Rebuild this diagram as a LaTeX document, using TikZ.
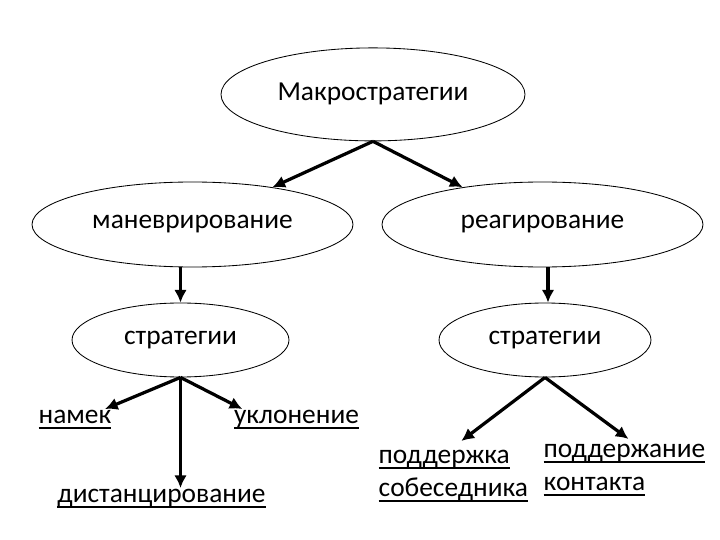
\documentclass[tikz,border=0pt]{standalone}
\usepackage{fontspec}
\setmainfont{Carlito}
\usepackage{tikz}
\usetikzlibrary{shapes.geometric, positioning, arrows.meta}
\newcommand{\undl}[1]{\setbox0=\hbox{#1}\rlap{\vrule height -2.2pt depth 3.8pt width \wd0}\box0}

\begin{document}
\begin{tikzpicture}[
	oval/.style={shape=ellipse, draw, line width=0.6pt, inner sep=0pt},
	lbl/.style={inner sep=1pt, align=left},
	arr/.style={-{Latex[length=9pt, width=9pt]}, line width=2.3pt},
	font=\fontsize{19.5}{23.5}\selectfont]
	% Paths, nodes and wires:
	\useasboundingbox (0, 0) rectangle (18, 13.5);
	\node[oval, minimum width=7.6cm, minimum height=2.325cm] (macro) at (9.325, 11.14){Макростратегии};
	\node[oval, minimum width=8.025cm, minimum height=2.125cm] (manev) at (4.8125, 7.8875){маневрирование};
	\node[oval, minimum width=8.025cm, minimum height=2.125cm] (reag) at (13.5625, 7.8875){реагирование};
	\node[oval, minimum width=5.425cm, minimum height=1.85cm] (stratL) at (4.5125, 5){стратегии};
	\node[oval, minimum width=5.3cm, minimum height=1.85cm] (stratR) at (13.625, 5){стратегии};
	\node[lbl, anchor=base] (namek) at (1.875, 2.9){\undl{намек}};
	\node[lbl, anchor=base] (uklon) at (7.4125, 2.9){\undl{уклонение}};
	\node[lbl, anchor=base] (dist) at (4.0375, 0.925){\undl{дистанцирование}};
	\node[lbl, anchor=base west] (podd) at (9.425, 1.075){\undl{поддержка}\\\undl{собеседника}};
	\node[lbl, anchor=base west] (kont) at (13.55, 1.225){\undl{поддержание}\\\undl{контакта}};
	\draw[arr] (macro.south) -- (manev.25);
	\draw[arr] (macro.south) -- (reag.155);
	\draw[arr] (stratL.north |- manev.south) -- (stratL.north);
	\draw[arr] ([xshift=0.075cm]stratR.north |- reag.south) -- ([xshift=0.075cm]stratR.north);
	\draw[arr] (stratL.south) -- ([xshift=0.75cm]namek.north);
	\draw[arr] (stratL.south) -- ([xshift=0.25cm]uklon.north west);
	\draw[arr] (stratL.south) -- (stratL.south |- dist.north);
	\draw[arr] (stratR.south) -- ([xshift=0.2cm, yshift=0.2cm]podd.north);
	\draw[arr] (stratR.south) -- ([xshift=0.1cm, yshift=0.1cm]kont.north);
\end{tikzpicture}
\end{document}
